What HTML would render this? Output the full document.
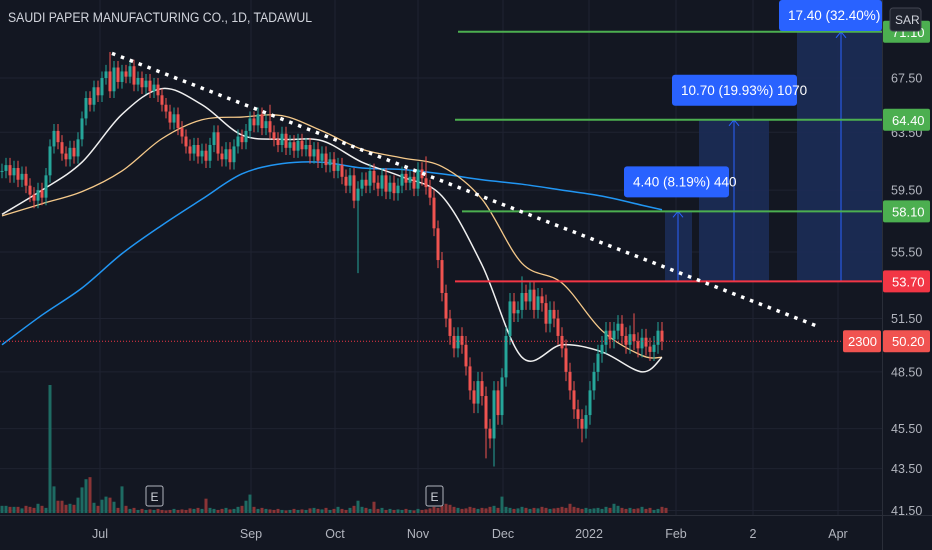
<!DOCTYPE html>
<html><head><meta charset="utf-8"><style>
html,body{margin:0;padding:0;background:#131722;width:932px;height:550px;overflow:hidden}
svg{display:block;font-family:"Liberation Sans",sans-serif}
</style></head><body>
<svg id="chart" width="932" height="550" viewBox="0 0 932 550" xmlns="http://www.w3.org/2000/svg">
<rect x="0" y="0" width="932" height="550" fill="#131722"/>
<g id="grid"></g>
<g id="vol"></g>
<g id="boxes"></g>
<g id="mas"></g>
<g id="candles"></g>
<g id="levels"></g>
<g id="trend"></g>
<g id="labels"></g>
<g id="axes"></g>
<text x="8" y="22" fill="#d1d4dc" font-size="13.5" textLength="304" lengthAdjust="spacingAndGlyphs">SAUDI PAPER MANUFACTURING CO., 1D, TADAWUL</text>
</svg>
<script>
// ---- data ----
const closes = [60.8,61.2,60.5,61.0,60.2,60.6,59.8,59.2,58.8,59.5,59.0,60.5,62.5,63.6,62.8,62.0,61.6,62.4,61.8,63.0,64.5,66.0,65.5,66.8,66.2,67.5,68.0,66.5,68.3,67.2,68.0,67.6,68.4,67.0,67.5,66.8,67.3,66.5,67.0,66.2,65.5,65.0,64.2,64.8,63.8,63.2,62.5,62.0,62.6,61.8,62.2,61.5,62.6,63.5,62.0,61.6,62.3,61.4,62.5,63.2,62.8,63.6,64.5,64.0,64.8,63.8,64.3,63.5,63.0,62.6,63.4,62.4,62.8,62.2,62.9,62.3,62.6,61.8,62.3,61.5,62.0,61.2,61.6,60.8,61.2,60.4,59.8,60.5,58.8,59.6,60.2,59.8,60.8,60.0,59.6,60.5,59.4,60.0,59.3,59.8,60.6,60.0,60.4,59.6,60.9,60.3,59.7,59.0,57.0,55.0,53.0,51.5,50.5,49.8,50.5,50.0,48.8,47.5,46.8,48.0,47.2,45.5,45.0,47.5,46.2,48.2,50.5,52.5,51.8,52.0,53.0,52.5,53.2,52.0,52.8,52.4,51.2,52.0,51.5,50.5,49.8,48.5,47.5,46.5,46.0,45.5,46.2,47.5,48.5,49.5,50.0,50.8,50.3,50.8,51.2,50.5,50.0,50.6,50.2,49.8,50.4,49.9,49.6,50.0,50.8,50.2];
const longLows = {89:54.2, 121:44.0, 123:43.6, 145:44.8};
const longHighs = {27:69.5, 67:65.5, 106:61.8, 130:54.0, 158:51.8};
const volumes = [14,14,12,12,12,9,14,12,10,18,14,10,250,52,24,24,16,18,16,30,50,66,70,20,14,26,32,30,22,10,52,14,8,10,6,8,6,7,6,8,6,5,6,8,6,7,6,9,8,10,8,28,10,8,6,8,10,7,8,12,14,24,36,12,8,10,8,7,6,8,6,5,6,8,6,7,6,9,10,8,7,10,6,8,12,8,6,10,14,24,12,10,8,22,8,10,6,8,6,7,6,8,6,5,8,6,7,9,12,10,14,18,16,12,10,8,9,12,10,8,10,9,12,14,10,32,12,10,8,9,12,10,8,10,9,12,10,8,9,10,12,10,18,12,10,8,10,8,9,10,8,12,10,18,14,10,8,10,8,9,12,8,10,6,8,12,10];
const maWhite = [57.9,59.5,61.4,64.8,66.7,65.5,63.3,63.0,62.9,61.4,60.4,59.1,54.7,49.3,50.0,49.6,48.5,49.3];
const maTan   = [57.8,58.6,59.4,60.8,63.05,64.4,64.6,64.7,63.6,62.3,61.7,61.1,58.9,54.8,53.6,50.8,49.4,49.3];
const maBlue  = [50.0,51.7,53.3,55.4,57.2,58.9,60.6,61.3,61.4,61.0,60.9,60.6,60.2,59.9,59.5,59.1,58.5,58.2];
const maStep = 10;
const priceTicks = [67.50,63.50,59.50,55.50,51.50,48.50,45.50,43.50,41.50];
const timeLabels = ["Jul","Sep","Oct","Nov","Dec","2022","Feb","2","Apr"];
const timeIdx = [24.5,62.25,83.25,104,125.25,146.75,168.5,187.75,209];
const earningsIdx = [38, 108];
const greenLevels = [71.10,64.40,58.10];
const redLevel = 53.70;
const lastPrice = 50.20;
const entry = 53.70;
const targets = [58.10,64.40,71.10];
const targetLabels = ["4.40 (8.19%) 440","10.70 (19.93%) 1070","17.40 (32.40%) 17"];
const trendStart = [27.5,69.4], trendEnd = [204.5,51.0];

// ---- scales ----
const NS="http://www.w3.org/2000/svg";
const P0=67.5, Y0=78, K=889;
const y = p => Y0 + (Math.log(P0)-Math.log(p))*K;
const x = i => 2 + i*4;
const VB = 513, VK = 0.512;
function mk(tag, attrs, parent){const e=document.createElementNS(NS,tag);for(const k in attrs)e.setAttribute(k,attrs[k]);parent.appendChild(e);return e;}
const G = id => document.getElementById(id);

// grid
priceTicks.forEach(p=>{const l=mk('line',{x1:0,x2:882,y1:y(p),y2:y(p),stroke:'#1f2331','stroke-width':1},G('grid'));

});
timeIdx.forEach(i=>{const l=mk('line',{x1:x(i),x2:x(i),y1:0,y2:515,stroke:'#1f2331','stroke-width':1},G('grid'));

});

// volume
volumes.forEach((v,i)=>{const o=i?closes[i-1]:closes[0];const up=closes[i]>=o;
const r=mk('rect',{x:x(i)-1.5,y:VB-v*VK,width:3,height:v*VK,fill:up?'#1e6b63':'#8a3436'},G('vol'));

});
earningsIdx.forEach(i=>{const px=x(i);const g=mk('g',{},G('vol'));


mk('rect',{x:px-8,y:486,width:17,height:20,rx:2,fill:'#131722',stroke:'#b2b5be','stroke-width':1},g);
mk('text',{x:px+0.5,y:501,fill:'#d1d4dc','font-size':12,'text-anchor':'middle'},g).textContent='E';});

// projection boxes
const boxX=[[665,692,678],[699,769,734],[797,882,841]];
targets.forEach((t,k)=>{const b=boxX[k];const top=k==2?0:y(t);
const r=mk('rect',{x:b[0],y:top,width:b[1]-b[0],height:y(entry)-top,fill:'#1c2c57','fill-opacity':0.9},G('boxes'));


const l=mk('line',{x1:b[2],x2:b[2],y1:y(entry),y2:y(t),stroke:'#2962ff','stroke-width':1},G('boxes'));


mk('polyline',{points:`${b[2]-5},${y(t)+6} ${b[2]},${y(t)} ${b[2]+5},${y(t)+6}`,fill:'none',stroke:'#2962ff','stroke-width':1},G('boxes'));});

// moving averages
function smooth(vals,color,w,name){const pts=vals.map((v,k)=>[x(Math.min(k*maStep,closes.length-1)),y(v)]);
let d=`M${pts[0][0]},${pts[0][1]}`;
for(let k=0;k<pts.length-1;k++){const p0=pts[k-1]||pts[k],p1=pts[k],p2=pts[k+1],p3=pts[k+2]||p2;
d+=` C${p1[0]+(p2[0]-p0[0])/6},${p1[1]+(p2[1]-p0[1])/6} ${p2[0]-(p3[0]-p1[0])/6},${p2[1]-(p3[1]-p1[1])/6} ${p2[0]},${p2[1]}`;}
const e=mk('path',{d,fill:'none',stroke:color,'stroke-width':w},G('mas'));

}
smooth(maBlue,'#2196f3',1.5,'ma-200-line');
smooth(maTan,'#f5c98a',1.3,'ma-50-line');
smooth(maWhite,'#f0f0f0',1.5,'ma-20-line');

// candles
closes.forEach((c,i)=>{const o=i?closes[i-1]:c;const up=c>=o;const col=up?'#26a69a':'#ef5350';
const hi=longHighs[i]||Math.max(o,c)+0.5, lo=longLows[i]||Math.min(o,c)-0.5;
const g=mk('g',{},G('candles'));


mk('line',{x1:x(i),x2:x(i),y1:y(hi),y2:y(lo),stroke:col,'stroke-width':1},g);
const t=y(Math.max(o,c)),b=y(Math.min(o,c));
mk('rect',{x:x(i)-1.5,y:t,width:3,height:Math.max(1,b-t),fill:col},g);});

// levels
greenLevels.forEach(p=>{const st=p==71.10?458:(p==64.40?455:462);
const l=mk('line',{x1:st,x2:882,y1:y(p),y2:y(p),stroke:'#4caf50','stroke-width':2},G('levels'));

});
{const l=mk('line',{x1:455,x2:882,y1:y(redLevel),y2:y(redLevel),stroke:'#f23645','stroke-width':2},G('levels'));

}
{const l=mk('line',{x1:0,x2:882,y1:y(lastPrice),y2:y(lastPrice),stroke:'#f23645','stroke-width':1,'stroke-dasharray':'1 2'},G('levels'));

}

// trendline
{const l=mk('line',{x1:x(trendStart[0]),y1:y(trendStart[1]),x2:x(trendEnd[0]),y2:y(trendEnd[1]),stroke:'#ffffff','stroke-width':3.5,'stroke-dasharray':'3.5 6','stroke-linecap':'butt'},G('trend'));

}

// target labels
const lblX=[[624,729],[672,797],[779,882]];
targets.forEach((t,k)=>{const L=lblX[k];const by=k==2?0:y(t)-45;
const g=mk('g',{},G('labels'));


mk('rect',{x:L[0],y:by,width:L[1]-L[0],height:31,rx:3,fill:'#2962ff'},g);
mk('text',{x:L[0]+9,y:by+20,fill:'#ffffff','font-size':13.5},g).textContent=targetLabels[k];});

// axes
const A=G('axes');
mk('rect',{x:883,y:0,width:49,height:550,fill:'#131722'},A);
mk('rect',{x:0,y:516,width:932,height:34,fill:'#131722'},A);
mk('line',{x1:882.5,x2:882.5,y1:0,y2:550,stroke:'#2a2e39'},A);
mk('line',{x1:0,x2:932,y1:515.5,y2:515.5,stroke:'#2a2e39'},A);
priceTicks.forEach(p=>{const t=mk('text',{x:891,y:y(p)+4.5,fill:'#b2b5be','font-size':12.5},A);t.textContent=p.toFixed(2);

});
timeLabels.forEach((s,k)=>{const t=mk('text',{x:x(timeIdx[k]),y:538,fill:'#b2b5be','font-size':12.5,'text-anchor':'middle'},A);t.textContent=s;

});
function tag(p,col,txt,name){const g=mk('g',{},A);


mk('rect',{x:883,y:y(p)-11,width:47,height:22,rx:2,fill:col},g);
mk('text',{x:892,y:y(p)+5,fill:'#ffffff','font-size':13},g).textContent=txt;}
greenLevels.forEach(p=>tag(p,'#4caf50',p.toFixed(2),'level-price-tag'));
tag(redLevel,'#f23645',redLevel.toFixed(2),'resistance-price-tag');
tag(lastPrice,'#f05350',lastPrice.toFixed(2),'last-price-tag');
{const g=mk('g',{},A);


mk('rect',{x:843,y:y(lastPrice)-11,width:38,height:22,rx:2,fill:'#f05350'},g);
mk('text',{x:848,y:y(lastPrice)+5,fill:'#ffffff','font-size':13},g).textContent='2300';}
{const g=mk('g',{},A);


mk('rect',{x:890,y:8,width:31,height:23,rx:3,fill:'#1e222d',stroke:'#434651'},g);
mk('text',{x:895,y:24,fill:'#d1d4dc','font-size':12},g).textContent='SAR';}
</script>
</body></html>
